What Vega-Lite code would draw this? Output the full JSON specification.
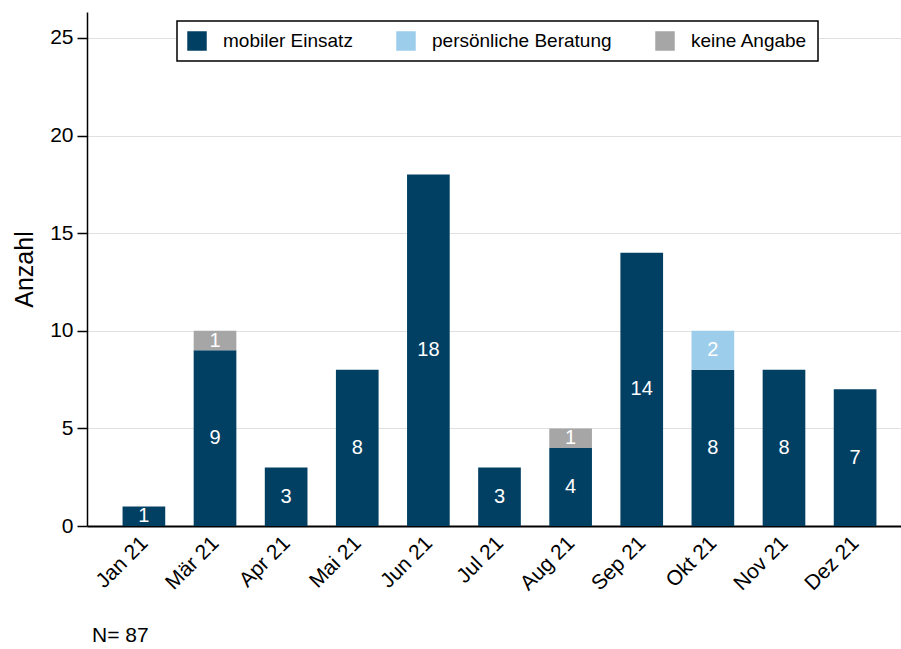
{
  "$schema": "https://vega.github.io/schema/vega-lite/v6.json",
  "width": 825,
  "height": 514,
  "autosize": {"type": "none"},
  "padding": {"left": 87, "top": 12, "right": 0, "bottom": 123},
  "background": "white",
  "config": {"font": "Liberation Sans", "view": {"stroke": null}},
  "title": {"text": "N= 87", "orient": "bottom", "anchor": "start", "frame": "group", "fontSize": 21, "fontWeight": "normal", "color": "black", "offset": 31, "dx": 5, "font": "Liberation Sans"},
  "data": {
    "values": [
      {"monat": "Jan 21", "kategorie": "mobiler Einsatz", "rang": 1, "anzahl": 1},
      {"monat": "Mär 21", "kategorie": "mobiler Einsatz", "rang": 1, "anzahl": 9},
      {"monat": "Mär 21", "kategorie": "keine Angabe", "rang": 3, "anzahl": 1},
      {"monat": "Apr 21", "kategorie": "mobiler Einsatz", "rang": 1, "anzahl": 3},
      {"monat": "Mai 21", "kategorie": "mobiler Einsatz", "rang": 1, "anzahl": 8},
      {"monat": "Jun 21", "kategorie": "mobiler Einsatz", "rang": 1, "anzahl": 18},
      {"monat": "Jul 21", "kategorie": "mobiler Einsatz", "rang": 1, "anzahl": 3},
      {"monat": "Aug 21", "kategorie": "mobiler Einsatz", "rang": 1, "anzahl": 4},
      {"monat": "Aug 21", "kategorie": "keine Angabe", "rang": 3, "anzahl": 1},
      {"monat": "Sep 21", "kategorie": "mobiler Einsatz", "rang": 1, "anzahl": 14},
      {"monat": "Okt 21", "kategorie": "mobiler Einsatz", "rang": 1, "anzahl": 8},
      {"monat": "Okt 21", "kategorie": "persönliche Beratung", "rang": 2, "anzahl": 2},
      {"monat": "Nov 21", "kategorie": "mobiler Einsatz", "rang": 1, "anzahl": 8},
      {"monat": "Dez 21", "kategorie": "mobiler Einsatz", "rang": 1, "anzahl": 7}
    ]
  },
  "transform": [
    {"stack": "anzahl", "groupby": ["monat"], "sort": [{"field": "rang", "order": "ascending"}], "as": ["y0", "y1"]},
    {"calculate": "(datum.y0 + datum.y1) / 2", "as": "ymid"}
  ],
  "encoding": {
    "x": {
      "field": "monat",
      "type": "nominal",
      "sort": ["Jan 21", "Mär 21", "Apr 21", "Mai 21", "Jun 21", "Jul 21", "Aug 21", "Sep 21", "Okt 21", "Nov 21", "Dez 21"],
      "scale": {"paddingInner": 0.4, "paddingOuter": 0.5},
      "axis": {
        "title": null,
        "labelAngle": -45,
        "labelAlign": "right",
        "labelBaseline": "top",
        "labelFontSize": 21,
        "labelColor": "black",
        "labelPadding": 6,
        "labelOffset": -7,
        "ticks": false,
        "domainColor": "black",
        "domainWidth": 2,
        "grid": false
      }
    }
  },
  "layer": [
    {
      "mark": {"type": "bar"},
      "encoding": {
        "y": {
          "field": "y1",
          "type": "quantitative",
          "scale": {"domain": [0, 26.33], "nice": false},
          "axis": {
            "title": "Anzahl",
            "titleFontSize": 25,
            "titleFontWeight": "normal",
            "titleColor": "black",
            "titlePadding": 12,
            "values": [0, 5, 10, 15, 20, 25],
            "labelFontSize": 21,
            "labelColor": "black",
            "labelPadding": 4,
            "tickSize": 10,
            "tickColor": "black",
            "tickWidth": 1.5,
            "domainColor": "black",
            "domainWidth": 1.5,
            "grid": true,
            "gridColor": "#e0e0e0",
            "gridWidth": 1
          }
        },
        "y2": {"field": "y0"},
        "color": {
          "field": "kategorie",
          "type": "nominal",
          "scale": {
            "domain": ["mobiler Einsatz", "persönliche Beratung", "keine Angabe"],
            "range": ["#024063", "#9ccdea", "#a6a6a6"]
          },
          "legend": {
            "title": null,
            "orient": "none",
            "legendX": 90,
            "legendY": 9,
            "direction": "horizontal",
            "columns": 3,
            "symbolType": "square",
            "symbolSize": 380,
            "symbolStrokeWidth": 0,
            "symbolOpacity": 1,
            "labelFontSize": 19,
            "labelColor": "black",
            "labelOffset": 16,
            "labelLimit": 300,
            "columnPadding": 43,
            "padding": 10,
            "strokeColor": "black",
            "fillColor": "white",
            "encode": {"legend": {"update": {"strokeWidth": {"value": 1.5}}}}
          }
        }
      }
    },
    {
      "mark": {"type": "text", "color": "white", "fontSize": 20, "baseline": "middle", "align": "center"},
      "encoding": {
        "y": {"field": "ymid", "type": "quantitative"},
        "text": {"field": "anzahl", "type": "quantitative"}
      }
    }
  ]
}
